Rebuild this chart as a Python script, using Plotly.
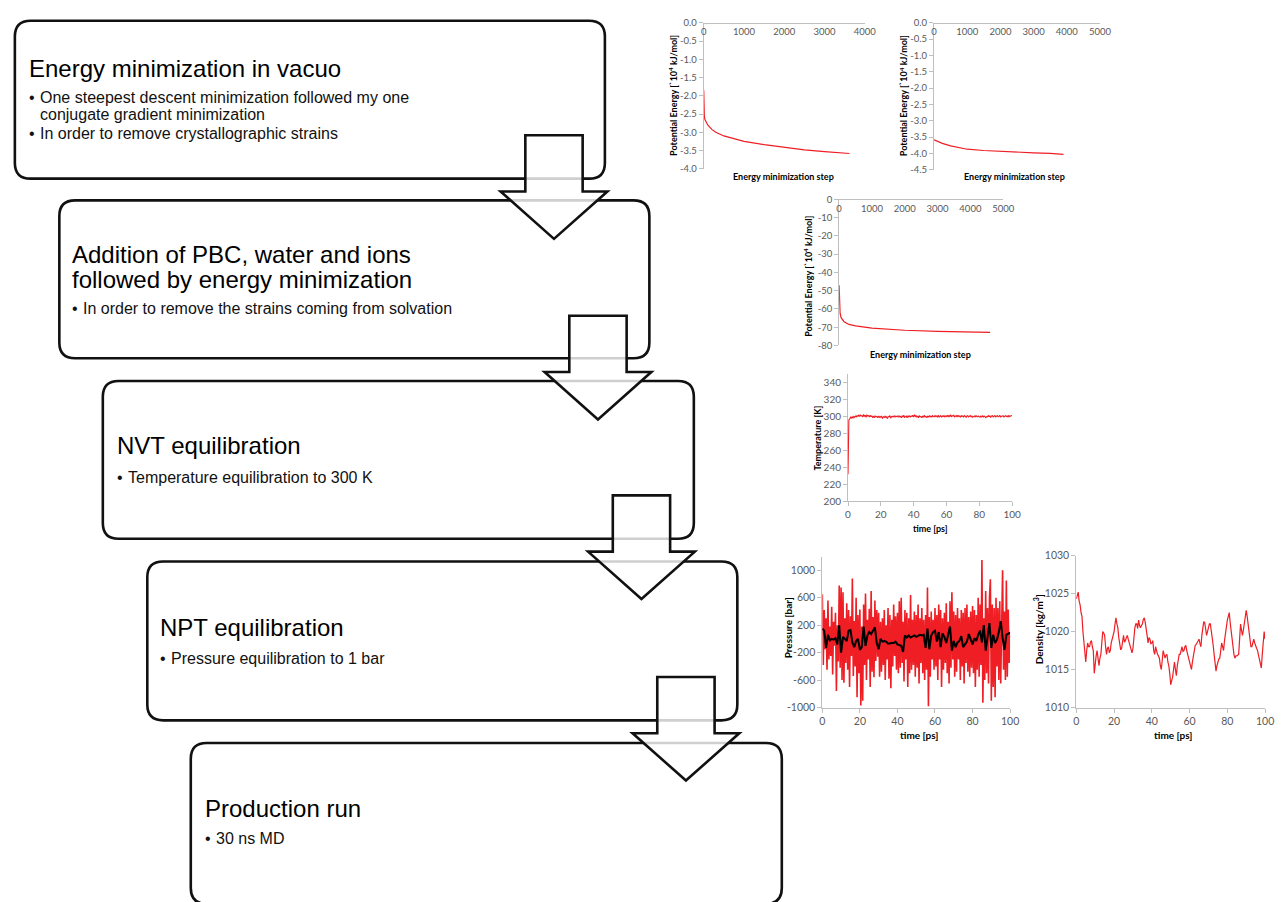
import numpy as np
import plotly.graph_objects as go

W, H = 1285, 902

# ---------------- data ----------------
em1_step = [0, 3, 8, 15, 30, 60, 100, 200, 300, 500, 750, 1000, 1500, 2000, 2500, 3000, 3620]
em1_energy = [-1.85, -2.15, -2.4, -2.55, -2.65, -2.73, -2.8, -2.92, -3.0, -3.1, -3.18, -3.25,
              -3.34, -3.42, -3.48, -3.53, -3.58]

em2_step = [0, 100, 250, 500, 750, 1000, 1500, 2000, 2500, 3000, 3500, 3900]
em2_energy = [-3.58, -3.63, -3.69, -3.77, -3.83, -3.87, -3.91, -3.94, -3.96, -3.98, -4.0, -4.03]

em3_step = [0, 3, 8, 15, 30, 60, 100, 150, 300, 500, 1000, 1500, 2000, 3000, 4000, 4600]
em3_energy = [-47, -52, -56, -59.5, -62.5, -64.8, -66, -67, -68.5, -69.3, -70.5, -71.2,
              -71.7, -72.3, -72.6, -72.8]

time_half = np.linspace(0, 100, 201)
time_one = np.linspace(0, 100, 101)

temperature = [
    232, 296, 297, 299, 298, 299.5, 298, 300, 299, 300.5, 299.5, 301, 300, 301.5, 300, 302, 300.5, 301, 299.5, 302.5,
    300, 301.5, 299, 302, 300.5, 301, 299.5, 301.5, 300, 300.5, 299, 300, 298.5, 300.5, 299.5, 300, 299, 300.5, 298.5, 300,
    299, 300.5, 298, 299.5, 300, 298.5, 300.5, 299, 297.5, 300, 299.5, 301, 298, 300, 299.5, 300.5, 299, 301, 299.5, 300,
    300.5, 299, 301, 299.5, 300, 298.5, 300.5, 299.5, 301.5, 299, 300, 300.5, 298.5, 300.5, 299.5, 301, 299, 300.5, 300, 301.5,
    299.5, 302, 300, 301, 299, 300.5, 298.5, 301, 299.5, 300, 298.5, 300.5, 299, 301.5, 299.5, 300, 298.5, 300.5, 299, 301,
    299.5, 300.5, 299, 301, 300, 299.5, 301, 300, 300.5, 299, 301.5, 299.5, 300, 301, 299, 300.5, 300, 301, 299.5, 300.5,
    300, 301.5, 299.5, 301, 300, 302, 299.5, 301, 300.5, 301.5, 299.5, 300.5, 301, 299.5, 301.5, 300, 300.5, 299, 301, 300,
    300.5, 299.5, 301, 300, 299, 300.5, 301, 299.5, 300, 301, 299.5, 300.5, 299, 300, 300.5, 299.5, 301, 300, 299.5, 300.5,
    300, 299, 300.5, 299.5, 301, 299, 300.5, 300, 298.5, 300, 299.5, 301, 300, 300.5, 299, 300.5, 301, 299.5, 300, 301,
    299.5, 300.5, 301, 299.5, 300, 301.5, 299.5, 300, 300.5, 301, 299.5, 300.5, 301, 300, 300.5, 299.5, 301, 300, 300.5, 301,
    300.5,
]

pressure = [
    650, -380, 420, -150, 300, -450, 560, -300, 180, -250, 470, -520, 250, -100, 380, -760, 200, -330, 780, -420,
    750, -600, 680, -640, 300, -350, 520, -450, 420, -700, 330, -250, 880, -540, 260, -400, 600, -850, 350, -500,
    430, -970, 180, -900, 500, -380, 660, -600, 280, -300, 440, -700, 700, -480, 320, -560, 560, -320, 420, -260,
    380, -550, 250, -480, 300, -380, 420, -600, 200, -300, 450, -580, 350, -720, 280, -400, 500, -250, 330, -450,
    380, -500, 550, -420, 600, -350, 250, -620, 420, -300, 380, -700, 300, -500, 640, -450, 280, -380, 400, -550,
    350, -420, 500, -650, 300, -350, 450, -500, 280, -600, 350, -450, 750, -980, 320, -550, 400, -300, 280, -450,
    450, -400, 350, -600, 500, -300, 420, -700, 300, -450, 380, -350, 520, -500, 250, -650, 550, -420, 680, -300,
    400, -550, 350, -480, 450, -300, 300, -600, 420, -400, 380, -650, 450, -350, 500, -480, 320, -550, 400, -420,
    480, -500, 420, -700, 350, -450, 600, -550, 500, -380, 1150, -930, 300, -600, 700, -500, 450, -650, 600, 870,
    -900, 500, -700, 450, -850, 600, -400, 450, -600, 550, -650, 600, 1000, -450, 400, -600, 850, -550, 430, -350,
    100,
]

pressure_avg = [
    150, 120, -130, 60, -20, 0, -10, 10, -80, 200, -200, 30, 0, -30, 120, 130, -50, -120, -30, 0,
    -160, -120, 180, -100, 50, 100, 70, 130, 170, -60, -150, 0, -40, -30, -40, -70, -60, -60, -60, -40,
    -80, -90, -100, -190, 50, 20, 50, 20, 40, 50, 30, 40, 60, 50, 60, -130, 150, -150, 50, 100,
    120, -40, 100, -120, 80, 30, -60, 60, 180, -170, -30, -120, -50, -30, 40, -120, -80, -40, 70, 0,
    -80, 10, -30, 60, 120, -50, 200, -170, 10, 230, -130, 60, -60, -10, 100, 260, 20, -160, 60, 80,
    90,
]

density = [
    1024.3, 1024.8, 1025.2, 1024.0, 1023.5, 1022.5, 1022.0, 1020.0, 1018.5, 1017.0, 1016.0, 1017.5, 1018.5, 1018.0, 1018.0, 1018.6, 1018.8, 1018.0, 1017.5, 1014.5,
    1016.0, 1016.8, 1017.5, 1016.0, 1015.5, 1016.5, 1017.0, 1018.5, 1020.0, 1019.8, 1019.5, 1018.0, 1017.0, 1017.8, 1018.0, 1017.2, 1017.5, 1018.5, 1019.0, 1019.5,
    1020.0, 1021.0, 1021.8, 1021.0, 1020.5, 1019.2, 1018.5, 1017.6, 1017.8, 1019.0, 1019.5, 1018.6, 1018.8, 1019.2, 1019.5, 1019.0, 1018.5, 1017.8, 1017.5, 1017.2,
    1017.8, 1019.5, 1020.5, 1021.0, 1021.0, 1020.4, 1021.5, 1020.8, 1020.5, 1020.8, 1021.0, 1021.6, 1021.8, 1021.2, 1020.5, 1019.5, 1018.5, 1019.2, 1019.0, 1018.4,
    1018.5, 1018.8, 1017.5, 1017.0, 1018.0, 1017.4, 1017.0, 1016.8, 1016.5, 1015.5, 1015.0, 1016.2, 1017.5, 1017.0, 1016.5, 1016.9, 1017.0, 1016.0, 1015.5, 1014.5,
    1013.0, 1013.5, 1014.0, 1015.0, 1016.0, 1015.0, 1014.2, 1015.5, 1016.5, 1017.0, 1017.0, 1017.8, 1018.0, 1017.4, 1017.5, 1018.0, 1018.2, 1017.5, 1017.0, 1016.5,
    1016.0, 1015.4, 1015.0, 1016.0, 1017.0, 1017.8, 1018.2, 1018.3, 1018.5, 1018.8, 1019.0, 1018.4, 1018.0, 1019.5, 1021.0, 1021.3, 1021.2, 1020.2, 1019.5, 1020.0,
    1020.5, 1021.0, 1021.0, 1020.2, 1019.5, 1018.2, 1017.0, 1015.8, 1014.8, 1015.5, 1016.0, 1016.4, 1016.5, 1017.5, 1018.5, 1018.0, 1017.5, 1018.8, 1020.0, 1020.8,
    1021.5, 1022.0, 1022.5, 1021.2, 1020.0, 1018.6, 1017.5, 1017.0, 1016.5, 1016.8, 1016.8, 1016.9, 1017.0, 1019.0, 1021.0, 1020.2, 1019.5, 1020.2, 1021.0, 1022.0,
    1022.8, 1022.0, 1021.0, 1019.5, 1018.2, 1018.0, 1018.0, 1018.6, 1019.0, 1018.5, 1018.0, 1017.8, 1017.5, 1017.0, 1016.5, 1015.8, 1015.2, 1017.0, 1019.0, 1020.0,
    1019.0,
]

# flowchart text
step_titles = [
    ["Energy minimization in vacuo"],
    ["Addition of PBC, water and ions", "followed by energy minimization"],
    ["NVT equilibration"],
    ["NPT equilibration"],
    ["Production run"],
]
step_bullets = [
    [["One steepest descent minimization followed my one", "conjugate gradient minimization"],
     ["In order to remove crystallographic strains"]],
    [["In order to remove the strains coming from solvation"]],
    [["Temperature equilibration to 300 K"]],
    [["Pressure equilibration to 1 bar"]],
    [["30 ns MD"]],
]

# ---------------- helpers (screen pixel -> paper) ----------------
def px(x):
    return x / W


def py(y):
    return 1 - y / H


def pt(x, y):
    return f"{px(x):.6f},{py(y):.6f}"


def rounded_rect(x0, y0, x1, y1, r):
    return (f"M{pt(x0 + r, y0)} L{pt(x1 - r, y0)} Q{pt(x1, y0)} {pt(x1, y0 + r)} "
            f"L{pt(x1, y1 - r)} Q{pt(x1, y1)} {pt(x1 - r, y1)} L{pt(x0 + r, y1)} "
            f"Q{pt(x0, y1)} {pt(x0, y1 - r)} L{pt(x0, y0 + r)} Q{pt(x0, y0)} {pt(x0 + r, y0)} Z")


def arrow(cx, top):
    sw, hw, sh, hh = 29, 54, 57, 48
    return (f"M{pt(cx - sw, top)} L{pt(cx + sw, top)} L{pt(cx + sw, top + sh)} "
            f"L{pt(cx + hw, top + sh)} L{pt(cx, top + sh + hh)} L{pt(cx - hw, top + sh)} "
            f"L{pt(cx - sw, top + sh)} Z")


boxes = [(12, 15, 609, 175), (57, 197, 654, 357), (101, 380, 699, 540),
         (146, 563, 743, 724), (190, 747, 788, 910)]
arrows = [(557.5, 131), (602, 314), (646, 496), (691, 680)]

shapes = []
for (x0, y0, x1, y1) in boxes:
    shapes.append(dict(type="path", xref="paper", yref="paper", path=rounded_rect(x0, y0, x1, y1, 16),
                       line=dict(color="#111111", width=2.6), fillcolor="white", layer="below"))
for (cx, top) in arrows:
    shapes.append(dict(type="path", xref="paper", yref="paper", path=arrow(cx, top),
                       line=dict(color="#111111", width=2.6), fillcolor="rgba(255,255,255,0.8)",
                       layer="above"))

annotations = []
BOX_FONT = "Liberation Sans, Arial, sans-serif"


def ann(text, x, y, size, family, color="#000", bold=False, xanchor="left", angle=0):
    if bold:
        text = f"<b>{text}</b>"
    annotations.append(dict(text=text, x=px(x), y=py(y), xref="paper", yref="paper",
                            showarrow=False, xanchor=xanchor, yanchor="middle",
                            textangle=angle, font=dict(size=size, family=family, color=color)))


title_pos = [(25, [63]), (69, [252, 277]), (114, [445]), (158, [630]), (203, [813])]
bullet_pos = [[[93, 110], [129]], [[307]], [[478]], [[661]], [[844]]]
for i in range(5):
    tx, tys = title_pos[i]
    for line, ty in zip(step_titles[i], tys):
        ann(line, tx - 1, ty, 24, BOX_FONT, "#000")
    for bl, bys in zip(step_bullets[i], bullet_pos[i]):
        ann("•", tx - 1, bys[0], 16, BOX_FONT, "#111")
        for line, by in zip(bl, bys):
            ann(line, tx + 10, by, 16, BOX_FONT, "#111")

# chart texts
CF = "Lato, Open Sans, sans-serif"
ylab_e = "Potential Energy [`10<sup>4</sup> kJ/mol]"
ann(ylab_e, 678, 91, 9, CF, bold=True, xanchor="center", angle=-90)
ann("Energy minimization step", 790, 173, 9, CF, bold=True, xanchor="center")
ann(ylab_e, 911, 91, 9, CF, bold=True, xanchor="center", angle=-90)
ann("Energy minimization step", 1023, 173, 9, CF, bold=True, xanchor="center")
ann(ylab_e, 815, 274, 9, CF, bold=True, xanchor="center", angle=-90)
ann("Energy minimization step", 928, 353, 9, CF, bold=True, xanchor="center")
ann("Temperature [K]", 824, 438, 9, CF, bold=True, xanchor="center", angle=-90)
ann("time [ps]", 938, 530, 9, CF, bold=True, xanchor="center")
ann("Pressure [bar]", 794, 630, 10, CF, bold=True, xanchor="center", angle=-90)
ann("time [ps]", 927, 739, 10, CF, bold=True, xanchor="center")
ann("Density [kg/m<sup>3</sup>]", 1048, 632, 10, CF, bold=True, xanchor="center", angle=-90)
ann("time [ps]", 1184, 739, 10, CF, bold=True, xanchor="center")

# ---------------- figure ----------------
RED = "rgb(238,30,36)"
fig = go.Figure()
fig.add_trace(go.Scatter(x=em1_step, y=em1_energy, mode="lines", line=dict(color=RED, width=1.2),
                         xaxis="x", yaxis="y"))
fig.add_trace(go.Scatter(x=em2_step, y=em2_energy, mode="lines", line=dict(color=RED, width=1.2),
                         xaxis="x2", yaxis="y2"))
fig.add_trace(go.Scatter(x=em3_step, y=em3_energy, mode="lines", line=dict(color=RED, width=1.2),
                         xaxis="x3", yaxis="y3"))
fig.add_trace(go.Scatter(x=time_half, y=temperature, mode="lines", line=dict(color=RED, width=1.1),
                         xaxis="x4", yaxis="y4"))
fig.add_trace(go.Scatter(x=time_half, y=pressure, mode="lines", line=dict(color=RED, width=1.6),
                         xaxis="x5", yaxis="y5"))
fig.add_trace(go.Scatter(x=time_one, y=pressure_avg, mode="lines", line=dict(color="black", width=2),
                         xaxis="x5", yaxis="y5"))
fig.add_trace(go.Scatter(x=time_half, y=density, mode="lines", line=dict(color=RED, width=1.2),
                         xaxis="x6", yaxis="y6"))

AX = "#bfbfbf"
TICKC = "#595959"


def xaxis(x0, x1, y0, y1, rng, vals, anchor, top=False, size=9):
    d = dict(domain=[px(x0), px(x1)], range=rng, showline=True, linecolor=AX,
             linewidth=1, showgrid=False, zeroline=False, tickvals=vals,
             ticktext=[str(v) for v in vals], tickfont=dict(size=size, family=CF, color=TICKC),
             fixedrange=True, side="bottom")
    if top:
        # axis crosses at y = 0 (top of the plot); labels sit just below that line
        d.update(anchor="free", position=py(y0), ticks="")
    else:
        d.update(anchor=anchor, ticks="outside", ticklen=4, tickcolor=AX)
    return d


def yaxis(y0, y1, rng, vals, labels, anchor, size=9):
    return dict(domain=[py(y1), py(y0)], range=rng, anchor=anchor, showline=True, linecolor=AX,
                linewidth=1, showgrid=False, zeroline=False, tickvals=vals, ticktext=labels,
                ticks="outside", ticklen=4, tickcolor=AX,
                tickfont=dict(size=size, family=CF, color=TICKC), fixedrange=True)


def fmt1(vals):
    return [("-" if v < 0 else "") + f"{abs(v):.1f}" for v in vals]


def fmt0(vals):
    return [("-" if v < 0 else "") + f"{abs(v):g}" for v in vals]


y1v = [0, -0.5, -1, -1.5, -2, -2.5, -3, -3.5, -4]
y2v = [0, -0.5, -1, -1.5, -2, -2.5, -3, -3.5, -4, -4.5]
y3v = [0, -10, -20, -30, -40, -50, -60, -70, -80]
y4v = [200, 220, 240, 260, 280, 300, 320, 340]
y5v = [-1000, -600, -200, 200, 600, 1000]
y6v = [1010, 1015, 1020, 1025, 1030]
tv = [0, 20, 40, 60, 80, 100]

fig.update_layout(
    width=W, height=H, margin=dict(l=0, r=0, t=0, b=0),
    paper_bgcolor="white", plot_bgcolor="white", showlegend=False,
    shapes=shapes, annotations=annotations,
    xaxis=xaxis(709, 872, 17, 165, [0, 4000], [0, 1000, 2000, 3000, 4000], "y", top=True, size=9.5),
    yaxis=yaxis(17, 165, [-4, 0], y1v, fmt1(y1v), "x", size=9.5),
    xaxis2=xaxis(942, 1110, 17, 166, [0, 5000], [0, 1000, 2000, 3000, 4000, 5000], "y2", top=True, size=9.5),
    yaxis2=yaxis(17, 166, [-4.5, 0], y2v, fmt1(y2v), "x2", size=9.5),
    xaxis3=xaxis(846, 1012, 196, 344, [0, 5000], [0, 1000, 2000, 3000, 4000, 5000], "y3", top=True, size=9.5),
    yaxis3=yaxis(196, 344, [-80, 0], y3v, fmt0(y3v), "x3", size=9.5),
    xaxis4=xaxis(855, 1021, 373, 502, [0, 100], tv, "y4", size=10),
    yaxis4=yaxis(373, 502, [200, 350], y4v, fmt0(y4v), "x4", size=10),
    xaxis5=xaxis(829, 1019, 558, 711, [0, 100], tv, "y5", size=10.5),
    yaxis5=yaxis(558, 711, [-1000, 1200], y5v, fmt0(y5v), "x5", size=10.5),
    xaxis6=xaxis(1086, 1277, 557, 711, [0, 100], tv, "y6", size=10.5),
    yaxis6=yaxis(557, 711, [1010, 1030], y6v, fmt0(y6v), "x6", size=10.5),
)

# remove the browser's default page margin so the figure sits at the window origin
fig.write_html(
    "out.html",
    config={"displayModeBar": False},
    post_script="document.body.style.margin='0';document.body.style.overflow='hidden';",
)
